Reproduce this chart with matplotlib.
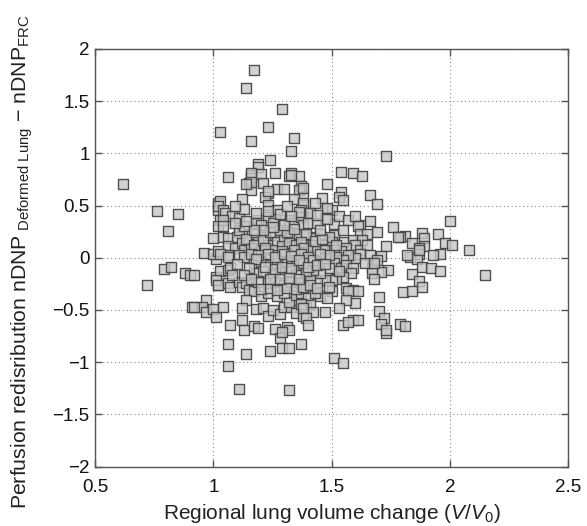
"""
Scatter of perfusion redistribution against regional lung volume change.
"""

import matplotlib
matplotlib.use("Agg")
import matplotlib.pyplot as plt
from matplotlib.ticker import FuncFormatter

plt.rcParams["font.family"] = ["Liberation Sans", "DejaVu Sans"]
plt.rcParams["mathtext.fontset"] = "custom"
plt.rcParams["mathtext.rm"] = "Liberation Sans"
plt.rcParams["mathtext.it"] = "Liberation Sans:italic"

# (V/V0, nDNP difference) pairs, grouped by region
left_points = [
    (0.62, 0.71), (0.76, 0.45), (0.85, 0.42), (0.81, 0.26), (0.96, 0.05),
    (1.00, 0.19), (1.01, -0.01), (0.79, -0.11), (0.82, -0.09), (0.88, -0.15),
    (0.90, -0.17), (0.92, -0.17), (0.72, -0.26), (0.97, -0.40), (0.91, -0.47),
    (0.95, -0.47), (0.97, -0.52), (1.00, -0.49), (1.01, -0.57), (1.01, -0.18),
    (1.02, -0.26), (1.02, 0.52), (1.02, 0.46), (1.03, 0.36), (1.02, 0.30),
    (0.92, -0.47),
]

top_points = [
    (1.17, 1.80), (1.14, 1.63), (1.29, 1.42), (1.03, 1.20), (1.23, 1.25),
    (1.16, 1.12), (1.34, 1.15), (1.33, 1.02), (1.73, 0.97), (1.24, 0.94),
    (1.19, 0.90), (1.19, 0.87), (1.06, 0.77), (1.16, 0.79), (1.16, 0.76),
    (1.20, 0.80), (1.26, 0.81), (1.33, 0.81), (1.32, 0.78), (1.36, 0.78),
    (1.54, 0.82), (1.59, 0.81), (1.63, 0.78), (1.15, 0.72), (1.21, 0.72),
    (1.37, 0.69), (1.48, 0.71), (1.16, 0.65), (1.27, 0.66), (1.30, 0.66),
    (1.36, 0.65), (1.23, 0.62), (1.22, 0.585), (1.54, 0.63), (1.53, 0.585),
    (1.55, 0.55), (1.66, 0.60), (1.12, 0.56), (1.38, 0.585), (1.34, 0.56),
    (1.46, 0.57), (1.69, 0.51), (1.03, 0.54), (1.23, 0.505), (1.27, 0.46),
    (1.38, 0.505), (1.38, 0.43), (1.48, 0.47), (1.50, 0.46), (1.66, 0.35),
    (1.76, 0.29), (1.62, 0.31), (1.51, 0.32), (1.16, 0.81), (1.16, 0.73),
    (1.14, 0.71), (1.33, 0.79), (1.23, 0.64), (1.02, 0.50), (1.04, 0.46),
    (1.38, 0.67), (1.48, 0.48), (1.47, 0.38), (1.48, 0.37), (1.38, 0.52),
    (1.37, 0.46), (1.41, 0.43), (1.38, 0.39),
]

upper_core = [
    (1.05, 0.43), (1.08, 0.40), (1.11, 0.38), (1.04, 0.36), (1.04, 0.30),
    (1.19, 0.36), (1.23, 0.39), (1.26, 0.37), (1.18, 0.33), (1.20, 0.31),
    (1.25, 0.33), (1.32, 0.36), (1.34, 0.33), (1.37, 0.39), (1.36, 0.44),
    (1.41, 0.43), (1.38, 0.31), (1.40, 0.33), (1.04, 0.20), (1.06, 0.19),
    (1.11, 0.25), (1.12, 0.23), (1.10, 0.20), (1.06, 0.11), (1.09, 0.09),
    (1.12, 0.14), (1.15, 0.15), (1.18, 0.23), (1.22, 0.20), (1.26, 0.22),
    (1.19, 0.15), (1.23, 0.12), (1.27, 0.15), (1.30, 0.19), (1.33, 0.21),
    (1.36, 0.23), (1.39, 0.22), (1.42, 0.20), (1.00, 0.04), (1.02, 0.06),
    (1.06, 0.03), (1.13, 0.075), (1.16, 0.09), (1.20, 0.06), (1.25, 0.075),
    (1.29, 0.11), (1.32, 0.14), (1.35, 0.12), (1.27, 0.03), (1.31, 0.04),
    (1.37, 0.06), (1.40, 0.075), (1.11, 0.27), (1.13, 0.30), (1.61, 0.30),
    (1.69, 0.25), (1.62, 0.23), (1.65, 0.23), (1.59, 0.17), (1.63, 0.17),
    (1.60, 0.12), (1.62, 0.075), (1.65, 0.12), (1.66, 0.03), (1.55, 0.15),
    (1.56, 0.09), (1.54, 0.06), (1.58, 0.03), (1.51, 0.22), (1.50, 0.15),
    (1.49, 0.20), (1.45, 0.23), (1.42, 0.19), (1.39, 0.23), (1.42, 0.12),
    (1.46, 0.12), (1.40, 0.075), (1.44, 0.06), (1.47, 0.075), (1.51, 0.075),
    (1.37, 0.15), (1.38, 0.09), (1.14, 0.18), (1.17, 0.12), (1.21, 0.17),
    (1.24, 0.25), (1.28, 0.27), (1.31, 0.25), (1.34, 0.28), (1.29, 0.06),
    (1.22, 0.09), (1.34, 0.07), (1.43, 0.16), (1.46, 0.18), (1.52, 0.12),
    (1.25, 0.29), (1.21, 0.27), (1.17, 0.27), (1.09, 0.33), (1.14, 0.35),
    (1.30, 0.31), (1.33, 0.40), (1.44, 0.33), (1.45, 0.27), (1.28, 0.42),
    (1.23, 0.45), (1.18, 0.43), (1.13, 0.47), (1.09, 0.50), (1.31, 0.50),
    (1.43, 0.52), (1.44, 0.41), (1.53, 0.40), (1.57, 0.36), (1.55, 0.27),
    (1.60, 0.40),
]

lower_core = [
    (1.03, 0.04), (1.06, 0.01), (1.11, 0.03), (1.13, 0.01), (1.03, -0.13),
    (1.06, -0.12), (1.07, -0.10), (1.01, -0.21), (1.02, -0.26), (1.06, -0.24),
    (1.07, -0.28), (1.11, -0.23), (1.12, -0.28), (1.14, -0.24), (1.15, -0.31),
    (1.17, -0.32), (1.04, -0.47), (1.14, -0.40), (1.12, -0.48), (1.18, -0.49),
    (1.21, -0.48), (1.23, -0.56), (1.25, -0.50), (1.28, -0.54), (1.30, -0.47),
    (1.33, -0.47), (1.35, -0.53), (1.38, -0.56), (1.39, -0.47), (1.35, -0.40),
    (1.32, -0.42), (1.41, -0.44), (1.20, -0.37), (1.23, -0.34), (1.27, -0.37),
    (1.30, -0.34), (1.35, -0.36), (1.37, -0.34), (1.40, -0.36), (1.17, -0.05),
    (1.20, -0.04), (1.24, -0.07), (1.27, -0.05), (1.31, -0.04), (1.35, -0.07),
    (1.38, -0.05), (1.42, -0.04), (1.18, -0.15), (1.21, -0.13), (1.25, -0.165),
    (1.28, -0.15), (1.32, -0.13), (1.35, -0.165), (1.39, -0.15), (1.42, -0.13),
    (1.19, -0.23), (1.23, -0.24), (1.26, -0.23), (1.30, -0.26), (1.33, -0.23),
    (1.37, -0.24), (1.40, -0.26), (1.20, -0.30), (1.24, -0.29), (1.27, -0.31),
    (1.31, -0.29), (1.35, -0.30), (1.39, -0.29), (1.16, 0.04), (1.19, 0.03),
    (1.23, 0.04), (1.26, 0.01), (1.30, 0.035), (1.33, 0.02), (1.37, 0.035),
    (1.40, 0.01), (1.62, 0.035), (1.60, -0.005), (1.57, 0.03), (1.55, -0.02),
    (1.52, 0.01), (1.51, -0.05), (1.49, -0.10), (1.54, -0.10), (1.56, -0.07),
    (1.59, -0.10), (1.58, -0.15), (1.55, -0.18), (1.52, -0.20), (1.50, -0.21),
    (1.47, -0.21), (1.44, -0.23), (1.41, -0.21), (1.45, -0.15), (1.42, -0.12),
    (1.39, -0.13), (1.38, -0.05), (1.42, -0.02), (1.47, 0.00), (1.49, 0.03),
    (1.45, 0.04), (1.56, -0.29), (1.59, -0.31), (1.61, -0.32), (1.57, -0.32),
    (1.60, -0.43), (1.56, -0.40), (1.53, -0.48), (1.47, -0.52), (1.50, -0.32),
    (1.45, -0.37), (1.48, -0.39), (1.43, -0.34), (1.38, -0.28), (1.41, -0.26),
    (1.44, -0.29), (1.49, -0.28), (1.37, -0.44), (1.38, -0.48), (1.42, -0.52),
    (1.39, -0.58), (1.40, -0.64), (1.55, -0.64), (1.59, -0.60), (1.61, -0.60),
    (1.57, -0.62), (1.18, -0.01), (1.22, -0.09), (1.26, -0.11), (1.29, -0.09),
    (1.33, -0.10), (1.36, -0.02), (1.40, -0.09), (1.44, -0.07), (1.15, -0.10),
    (1.13, -0.17), (1.16, -0.20), (1.10, -0.06), (1.08, -0.17), (1.24, -0.20),
    (1.28, -0.20), (1.32, -0.19), (1.36, -0.20), (1.53, -0.13), (1.47, -0.06),
]

right_points = [
    (2.00, 0.355), (1.95, 0.23), (1.88, 0.24), (1.89, 0.19), (1.89, 0.11),
    (1.81, 0.21), (1.79, 0.20), (1.84, 0.14), (1.87, 0.09), (1.87, 0.04),
    (1.98, 0.14), (2.01, 0.12), (2.08, 0.075), (1.96, 0.04), (1.93, 0.03),
    (1.83, 0.01), (1.86, -0.01), (1.88, -0.085), (1.92, -0.095), (1.96, -0.13),
    (2.15, -0.17), (1.84, -0.16), (1.87, -0.22), (1.88, -0.28), (1.80, -0.33),
    (1.84, -0.32), (1.79, -0.63), (1.81, -0.65), (1.78, 0.20), (1.73, 0.11),
    (1.71, 0.02), (1.74, -0.12), (1.71, -0.14), (1.67, -0.10), (1.67, -0.15),
    (1.69, -0.02), (1.64, -0.05), (1.68, -0.05), (1.68, -0.20), (1.70, -0.38),
    (1.70, -0.51), (1.72, -0.58), (1.71, -0.63), (1.73, -0.72), (1.73, -0.69),
    (1.82, 0.03), (1.87, 0.075),
]

bottom_points = [
    (1.07, -0.64), (1.12, -0.60), (1.13, -0.69), (1.17, -0.65), (1.19, -0.67),
    (1.06, -0.83), (1.14, -0.92), (1.06, -1.04), (1.11, -1.26), (1.24, -0.89),
    (1.26, -0.68), (1.28, -0.77), (1.29, -0.86), (1.32, -0.86), (1.37, -0.83),
    (1.31, -0.66), (1.32, -0.69), (1.32, -1.27), (1.29, -0.71), (1.51, -0.96),
    (1.55, -1.01),
]

x_ticks = [0.5, 1, 1.5, 2, 2.5]
y_ticks = [-2, -1.5, -1, -0.5, 0, 0.5, 1, 1.5, 2]


def main() -> None:
    points = (left_points + top_points + upper_core + lower_core
              + right_points + bottom_points)
    volume = [p[0] for p in points]
    perfusion = [p[1] for p in points]

    fig = plt.figure(figsize=(5.87, 5.26), dpi=100)
    ax = fig.add_axes([0.162, 0.113, 0.806, 0.794])

    ax.scatter(
        volume,
        perfusion,
        marker="s",
        s=44,
        facecolor=(0.78, 0.78, 0.78, 0.8),
        edgecolor=(0.28, 0.28, 0.28, 0.95),
        linewidth=1.0,
        zorder=3
    )

    ax.set_xlim(0.5, 2.5)
    ax.set_ylim(-2, 2)
    ax.set_xticks(x_ticks)
    ax.set_yticks(y_ticks)
    ax.xaxis.set_major_formatter(FuncFormatter(lambda v, pos: "%g" % v))
    ax.yaxis.set_major_formatter(
        FuncFormatter(lambda v, pos: ("%g" % v).replace("-", "\u2212"))
    )

    ax.grid(True, linestyle=(0, (1, 2.5)), color="#888888", linewidth=0.8)
    ax.tick_params(direction="in", top=True, right=True, length=5,
                   width=1, color="#555555", labelsize=13.5,
                   labelcolor="#111111")
    ax.tick_params(axis="x", pad=9)
    ax.tick_params(axis="y", pad=4)
    for spine in ax.spines.values():
        spine.set_color("#555555")
        spine.set_linewidth(1.0)

    ax.set_xlabel(r"Regional lung volume change ($\mathit{V}$/$\mathit{V}_0$)",
                  fontsize=15, color="#222222", labelpad=4)
    ax.set_ylabel(
        "Perfusion redisribution nDNP$_{\\mathregular{\\ Deformed\\ Lung}}$"
        " \u2212 nDNP$_{\\mathregular{FRC}}$",
        fontsize=15.3, color="#222222"
    )
    ax.yaxis.set_label_coords(-0.128, 0.49)

    fig.savefig("out.png", dpi=100)


if __name__ == "__main__":
    main()
